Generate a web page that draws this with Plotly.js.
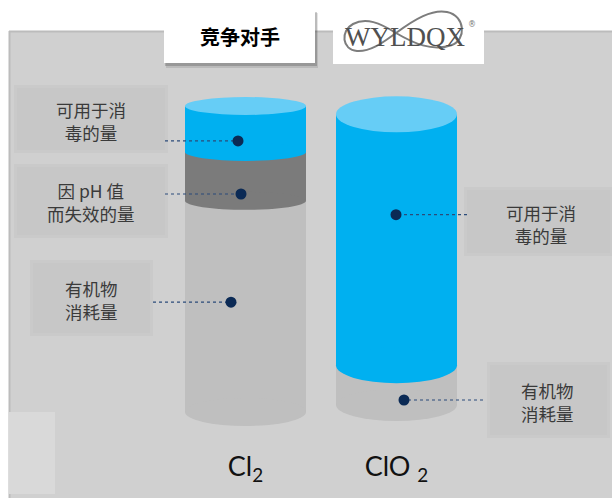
<!DOCTYPE html>
<html><head><meta charset="utf-8">
<script src="https://cdn.plot.ly/plotly-3.0.1.min.js"></script>
<style>html,body{margin:0;padding:0;background:#fff}#chart{width:612px;height:498px}</style>
</head><body><div id="chart"></div>
<script>
// ---- data ----
const categories = ['Cl2', 'ClO2'];
const tickLabels = ['Cl<sub>2</sub>', 'ClO <sub>2</sub>'];
const seriesNames = ['有机物消耗量', '因 pH 值而失效的量', '可用于消毒的量'];
const organicUse = [69, 13];
const phLoss = [16, 0];
const availDisinfect = [15, 82];

// ---- layout settings ----
const W = 612, H = 498, B = 50, PH = H - B;
const K = 3.06, BASEPX = 412;
const yRange = [-(PH - BASEPX) / K, BASEPX / K];
const C0 = 245.5, STEP = 151;
const xRange = [-C0 / STEP, (W - C0) / STEP];
const barW = 121 / STEP;
const cylBase = [0, 2.3];
const ryTop = [9, 18], ryBottom = [14, 16];
const segColors = ['#bfbfbf', '#7b7b7b', '#00b0f0'];
const topColor = '#66cdf6';
const panelColor = '#d0d0d0';

const px = x => x / W;
const py = y => 1 - y / PH;
const dataX = x => xRange[0] + x / W * (xRange[1] - xRange[0]);

const xIdx = categories.map((c, i) => i);
const series = [organicUse, phLoss, availDisinfect];
const bases = series.map(() => []);
const tops = [];
xIdx.forEach(i => {
  let acc = cylBase[i];
  series.forEach((s, j) => { bases[j][i] = acc; acc += s[i]; });
  tops[i] = acc;
});

const traces = series.map((s, j) => ({
  type: 'bar', x: xIdx, y: s, base: bases[j], width: barW, name: seriesNames[j],
  marker: { color: segColors[j], line: { width: 0 } }, hoverinfo: 'skip', showlegend: false
}));

const shapes = [];
const annotations = [];
const rectPx = (x0, y0, x1, y1, fill, layer) => shapes.push({
  type: 'rect', xref: 'paper', yref: 'paper', x0: px(x0), x1: px(x1), y0: py(y0), y1: py(y1),
  fillcolor: fill, line: { width: 0 }, layer: layer || 'below'
});
const linePx = (x0, y0, x1, y1, color, w, layer) => shapes.push({
  type: 'line', xref: 'paper', yref: 'paper', x0: px(x0), x1: px(x1), y0: py(y0), y1: py(y1),
  line: { color: color, width: w }, layer: layer || 'below'
});

// background
rectPx(0, 0, W, 31, '#ffffff');
rectPx(0, 31, 9, H, '#ffffff');
linePx(9, 31.5, W, 31.5, '#bcbcbc', 2);
linePx(9.5, 31, 9.5, H, '#bcbcbc', 2);
rectPx(9, 412, 55, 494, '#d9d9d9');

// label config
const labels = [
  { text: '可用于消<br>毒的量', box: [17, 88, 165, 150], tx: 91, ty: 120.5, cyl: 0, seg: 2, frac: 0.24, dotDx: -7.5, edge: 165 },
  { text: '因 pH 值<br>而失效的量', box: [17, 167, 165, 235], tx: 91, ty: 202, cyl: 0, seg: 1, frac: 0.14, dotDx: -4.5, edge: 165 },
  { text: '有机物<br>消耗量', box: [33, 263, 150, 333], tx: 91, ty: 299.5, cyl: 0, seg: 0, frac: 0.52, dotDx: -14.5, edge: 153 },
  { text: '可用于消<br>毒的量', box: [467, 190, 610, 253], tx: 541, ty: 224, cyl: 1, seg: 2, frac: 0.6, dotDx: -0.5, edge: 467 },
  { text: '有机物<br>消耗量', box: [490, 365, 607, 435], tx: 547, ty: 401.5, cyl: 1, seg: 0, frac: 0.125, dotDx: 7.5, edge: 483 }
];
labels.forEach(l => {
  const [x0, y0, x1, y1] = l.box;
  rectPx(x0 - 3, y0 - 3, x1 + 3, y1 + 3, 'rgba(196,196,196,0.45)');
  rectPx(x0, y0, x1, y1, '#c7c7c7');
  annotations.push({
    xref: 'paper', yref: 'paper', x: px(l.tx), y: py(l.ty), text: l.text, showarrow: false,
    xanchor: 'center', yanchor: 'middle', align: 'center',
    font: { family: 'Noto Sans CJK SC', size: 17.5, color: '#3a3a3a' }
  });
});

// cylinder ellipses
xIdx.forEach(i => {
  let first = true;
  series.forEach((s, j) => {
    if (s[i] <= 0) return;
    const ry = first ? ryBottom[i] : ryTop[i];
    first = false;
    shapes.push({
      type: 'circle', xref: 'x', yref: 'y', ysizemode: 'pixel', yanchor: bases[j][i],
      x0: i - barW / 2, x1: i + barW / 2, y0: -ry, y1: ry,
      fillcolor: segColors[j], line: { width: 0 }, layer: 'above'
    });
  });
  shapes.push({
    type: 'circle', xref: 'x', yref: 'y', ysizemode: 'pixel', yanchor: tops[i],
    x0: i - barW / 2, x1: i + barW / 2, y0: -ryTop[i], y1: ryTop[i],
    fillcolor: topColor, line: { width: 0 }, layer: 'above'
  });
});

// connectors and dots
labels.forEach(l => {
  const yv = bases[l.seg][l.cyl] + l.frac * series[l.seg][l.cyl];
  const xd = l.cyl + l.dotDx / STEP;
  shapes.push({
    type: 'line', xref: 'x', yref: 'y', x0: dataX(l.edge), x1: xd, y0: yv, y1: yv,
    line: { color: '#2b4b7a', width: 1.2, dash: 'dot' }, layer: 'above'
  });
  shapes.push({
    type: 'circle', xref: 'x', yref: 'y', xsizemode: 'pixel', ysizemode: 'pixel',
    xanchor: l.cyl, yanchor: yv, x0: l.dotDx - 5.5, x1: l.dotDx + 5.5, y0: -5.5, y1: 5.5,
    fillcolor: '#0b2a55', line: { width: 0 }, layer: 'above'
  });
});

// title box with shadow
rectPx(166, 13, 318, 68, 'rgba(0,0,0,0.10)', 'above');
rectPx(165, 12, 317, 66, 'rgba(0,0,0,0.18)', 'above');
rectPx(164, 10, 315, 63, '#ffffff', 'above');
annotations.push({
  xref: 'paper', yref: 'paper', x: px(239.5), y: py(36), text: '<b>竞争对手</b>', showarrow: false,
  xanchor: 'center', yanchor: 'middle', font: { family: 'Noto Sans CJK SC', size: 20, color: '#000' }
});

// logo box
rectPx(333, 0, 484, 64, '#ffffff', 'above');
const P = (x, y) => `${px(x)} ${py(y)}`;
shapes.push({
  type: 'path', xref: 'paper', yref: 'paper', layer: 'above',
  path: `M ${P(396, 33)} C ${P(415, 19)} ${P(432, 9)} ${P(447, 12)} C ${P(466, 16)} ${P(466, 40)} ${P(452, 45)} C ${P(432, 52)} ${P(413, 43)} ${P(396, 33)} C ${P(380, 23)} ${P(366, 17)} ${P(353, 24)} C ${P(340, 31)} ${P(342, 50)} ${P(357, 51)} C ${P(372, 52)} ${P(386, 40)} ${P(396, 33)}`,
  line: { color: '#7d7d7d', width: 2 }
});
annotations.push({
  xref: 'paper', yref: 'paper', x: px(405), y: py(37), text: 'WYLDQX', showarrow: false,
  xanchor: 'center', yanchor: 'middle', font: { family: 'Liberation Serif', size: 27, color: '#505050' }
});
annotations.push({
  xref: 'paper', yref: 'paper', x: px(472), y: py(24), text: '®', showarrow: false,
  xanchor: 'center', yanchor: 'middle', font: { family: 'DejaVu Sans', size: 8, color: '#777' }
});

const layout = {
  width: W, height: H, margin: { l: 0, r: 0, t: 0, b: B, pad: 0 },
  paper_bgcolor: panelColor, plot_bgcolor: 'rgba(0,0,0,0)',
  barmode: 'overlay', showlegend: false,
  xaxis: {
    range: xRange, tickvals: xIdx, ticktext: tickLabels, showgrid: false, zeroline: false,
    showline: false, ticks: '', fixedrange: true,
    tickfont: { family: 'Lato', size: 27, color: '#111' }
  },
  yaxis: { range: yRange, visible: false, showgrid: false, zeroline: false, fixedrange: true },
  shapes: shapes, annotations: annotations
};
Plotly.newPlot('chart', traces, layout, { displayModeBar: false, staticPlot: true });
</script></body></html>
